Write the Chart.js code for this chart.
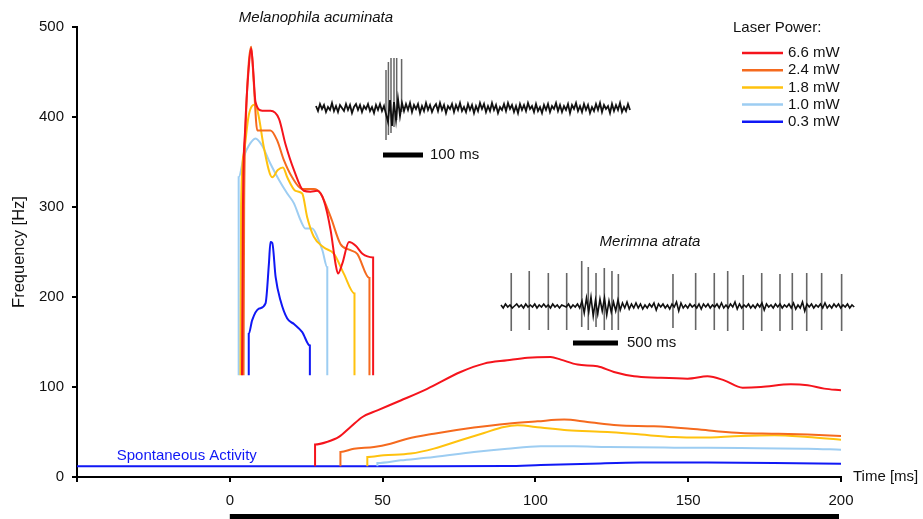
<!DOCTYPE html>
<html>
<head>
<meta charset="utf-8">
<script src="https://cdn.jsdelivr.net/npm/chart.js@4.4.1/dist/chart.umd.min.js"></script>
<style>
  html, body { margin: 0; padding: 0; background: #fff; }
  #wrap { width: 923px; height: 519px; position: relative; }
</style>
</head>
<body>
<div id="wrap"><canvas id="chart"></canvas></div>
<script>
// Laser power levels, shared by both species
const powerLabels = ['6.6 mW', '2.4 mW', '1.8 mW', '1.0 mW', '0.3 mW'];
const powerColors = ['#f5141c', '#f56a1e', '#ffc20e', '#9dcdf2', '#1018f5'];

// Melanophila acuminata: time [ms] / frequency [Hz]
const melRedT = [4.0, 4.3, 5.0, 6.2, 7.0, 7.6, 8.4, 10.6, 13.3, 16.1, 18.2, 21.0, 24.2, 26.4, 28.6, 30.8, 33.0, 34.6, 35.4, 36.8, 39.0, 41.2, 43.4, 46.9, 46.9];
const melRedF = [113, 300, 385, 455, 476, 455, 417, 407, 407, 398, 370, 341, 318, 317, 318, 307, 274, 237, 226, 237, 261, 257, 248, 244, 113];
const melOrangeT = [4.5, 4.7, 5.3, 6.2, 7.0, 7.8, 9.0, 13.3, 15.5, 17.7, 20.4, 23.7, 27.5, 29.7, 33.0, 36.2, 39.5, 41.7, 45.7, 45.7];
const melOrangeF = [113, 300, 400, 460, 478, 440, 385, 385, 374, 352, 333, 320, 320, 315, 289, 259, 252, 248, 221, 113];
const melYellowT = [3.5, 3.7, 4.6, 6.2, 8.3, 9.5, 11.1, 13.9, 15.7, 17.4, 18.8, 21.5, 23.7, 25.3, 27.5, 30.8, 34.1, 37.3, 40.8, 40.8];
const melYellowF = [113, 300, 360, 402, 414, 400, 367, 333, 341, 344, 333, 318, 315, 289, 267, 255, 248, 226, 204, 113];
const melLightT = [2.9, 2.9, 4.6, 6.2, 8.4, 10.6, 13.3, 16.1, 18.8, 21.0, 23.2, 24.8, 27.0, 28.6, 30.3, 31.9, 31.9];
const melLightF = [113, 333, 356, 368, 376, 368, 348, 330, 315, 304, 285, 276, 276, 267, 252, 233, 113];
const melBlueT = [6.2, 6.2, 7.3, 9.5, 11.7, 12.8, 13.3, 13.9, 15.0, 16.6, 18.8, 21.0, 23.7, 26.2, 26.2];
const melBlueF = [113, 159, 174, 187, 193, 237, 261, 260, 222, 196, 176, 170, 161, 146, 113];

// Merimna atrata: time [ms] / frequency [Hz]
const merRedT = [27.9, 27.9, 31.9, 35.7, 39.5, 43.4, 48.3, 55.9, 64.6, 75.5, 83.2, 90.8, 97.4, 105.0, 108.3, 113.8, 120.3, 125.7, 132.3, 139.9, 149.8, 156.3, 161.8, 167.8, 173.8, 183.6, 189.1, 194.5, 200];
const merRedF = [12, 36, 39, 44.5, 55.5, 66.7, 74, 85, 98, 116.7, 126, 129.7, 132.6, 133.3, 130.4, 124.9, 123, 116.7, 111.9, 110.4, 109.3, 111.9, 107.4, 99.3, 100, 103, 101.9, 98.2, 96.3];
const merOrangeT = [36.2, 36.2, 40.6, 47.2, 52.6, 58.1, 66.8, 79.9, 90.8, 100.7, 109.4, 117.0, 126.9, 138.8, 149.8, 158.5, 167.2, 178.1, 189.1, 200];
const merOrangeF = [12, 27.8, 31.5, 33.3, 37, 42.6, 48.1, 54.9, 59.3, 61.9, 63.8, 61.1, 57.4, 56.3, 53.8, 51.1, 48.9, 48.1, 47.1, 45.6];
const merYellowT = [45.0, 45.0, 50.4, 59.2, 66.8, 75.5, 83.2, 89.7, 94.1, 101.7, 110.5, 123.6, 134.5, 145.4, 154.1, 167.2, 178.1, 189.1, 200];
const merYellowF = [12, 22.2, 24.1, 26, 31.5, 40.8, 48.9, 55.6, 57.4, 54.9, 51.9, 50, 47.1, 44.4, 43.8, 45.6, 46.3, 44.4, 41.5];
const merLightT = [48.3, 48.3, 55.9, 66.8, 79.9, 90.8, 101.7, 112.6, 123.6, 145.4, 167.2, 189.1, 200];
const merLightF = [12, 15.6, 18.5, 22.2, 27.8, 31.5, 34.1, 34.1, 33.3, 32.6, 32.2, 31.5, 30.4];
// spontaneous activity, continuing as the 0.3 mW response
const merBlueT = [-50, 60, 90.8, 101.7, 118.1, 134.5, 156.3, 178.1, 200];
const merBlueF = [12, 12, 12.2, 13.3, 14.8, 16, 16, 15.6, 14.8];

// Example recordings (amplitude in arbitrary units)
const melTraceStep = 5; // ms per sample
const melTraceNoise = [
  2, -3, 4, -1, 3, -4, 1, -2, 5, -3, 2, -4, 3, 0, -3, 4, -2, 3, -5, 1,
  4, -2, 3, -4, 2, -1, 4, -3, 1, -5, 3, -2, 4, -3, 2, -6, -14, 8, -18, 6,
  -12, 9, -8, 5, -3, 4, -2, 5, -4, 3, -1, 4, -5, 2, -3, 5, -2, 3, -4, 1,
  4, -3, 5, -2, 3, -5, 2, -1, 4, -4, 3, -2, 5, -3, 1, -4, 4, -2, 3, -5,
  2, -3, 5, -1, 4, -4, 2, -3, 5, -2, 3, -5, 1, -2, 4, -3, 5, -1, 3, -4,
  2, -5, 4, -2, 3, -3, 5, -1, 2, -4, 4, -3, 1, -5, 3, -2, 4, -4, 2, -1,
  5, -3, 3, -4, 2, -2, 4, -5, 3, -1, 5, -3, 2, -4, 4, -2, 3, -5, 1, -3,
  4, -2, 5, -4, 3, -1, 2, -5, 4, -3, 3, -2, 5, -4, 1, -3, 4, -2
];
const melSpikeTimes = [175, 181, 187.5, 195, 201.7, 214];
const melSpikeTops = [38, 46, 50, 50, 50, 49];
const melSpikeBottoms = [-32, -27, -25, -19, -12, -4];
const melScaleBar = [167.5, 267.5]; // 100 ms

const merTraceStep = 25; // ms per sample
const merTraceNoise = [
  1, -2, 2, -1, 1, -2, 0, 2, -1, 1, -2, 2, -1, 1, -1, 2, -2, 1, -1, 2,
  -1, 1, -2, 2, -1, 1, -2, 1, 0, -1, 2, -2, 1, -1, 2, -2, 5, -7, 8, -6,
  9, -10, 6, -8, 7, -5, 8, -9, 5, -6, 4, -5, 6, -4, 3, -2, 4, -3, 2, -2,
  3, -2, 2, -3, 1, -2, 2, -1, 3, -4, 2, -1, 2, -2, 1, -3, 2, -1, 4, -5,
  3, -2, 1, -2, 2, -1, 1, -2, 2, -3, 2, -1, 2, -2, 1, -1, 2, -2, 3, -2,
  1, -2, 2, -1, 4, -3, 2, -2, 1, -1, 2, -2, 1, -2, 2, -1, 3, -4, 2, -1,
  1, -2, 2, -1, 2, -2, 1, -1, 2, -2, 3, -3, 1, -2, 4, -5, 2, -1, 2, -2,
  1, -1, 2, -2, 3, -2, 1, -2, 2, -1, 2, -2, 1, -1, 2, -2, 1, -1
];
const merSpikeTimes = [114, 314, 526, 730, 897, 970, 1056, 1148, 1233, 1304, 1911, 2163, 2370, 2519, 2692, 2897, 3100, 3237, 3397, 3563, 3785];
const merSpikeTops = [33, 35, 33, 33, 45, 39, 33, 38, 35, 32, 32, 33, 33, 35, 31, 33, 32, 33, 33, 33, 32];
const merSpikeBottoms = [-25, -24, -24, -24, -21, -24, -21, -24, -24, -24, -22, -24, -24, -25, -24, -25, -25, -24, -25, -24, -25];
const merScaleBar = [800, 1300]; // 500 ms

const FONT = "'Liberation Sans', Arial, Helvetica, sans-serif";

function xy(ts, fs) {
  return ts.map((t, i) => ({ x: t, y: fs[i] }));
}
function traceData(step, values) {
  return values.map((v, i) => ({ x: i * step, y: v }));
}
function spikeData(times, tops, bottoms) {
  const out = [];
  times.forEach((t, i) => {
    out.push({ x: t, y: bottoms[i] }, { x: t, y: tops[i] }, { x: t, y: null });
  });
  return out;
}
function curve(data, color) {
  return {
    data: data, borderColor: color, borderWidth: 2, pointRadius: 0,
    fill: false, cubicInterpolationMode: 'monotone', xAxisID: 'x', yAxisID: 'y'
  };
}
// recordings sit partly outside the plot area, so no clipping
function trace(data, color, width, xId, yId) {
  return {
    data: data, borderColor: color, borderWidth: width, pointRadius: 0,
    fill: false, tension: 0, spanGaps: false, clip: false, xAxisID: xId, yAxisID: yId
  };
}
// hidden inset axes: range set after data limits so no points get culled
function insetAxis(lo, hi) {
  return {
    type: 'linear', display: false, bounds: 'data',
    afterDataLimits: scale => { scale.min = lo; scale.max = hi; }
  };
}

const datasets = [
  curve(xy(melRedT, melRedF), powerColors[0]),
  curve(xy(merRedT, merRedF), powerColors[0]),
  curve(xy(melOrangeT, melOrangeF), powerColors[1]),
  curve(xy(merOrangeT, merOrangeF), powerColors[1]),
  curve(xy(melYellowT, melYellowF), powerColors[2]),
  curve(xy(merYellowT, merYellowF), powerColors[2]),
  curve(xy(melLightT, melLightF), powerColors[3]),
  curve(xy(merLightT, merLightF), powerColors[3]),
  curve(xy(melBlueT, melBlueF), powerColors[4]),
  curve(xy(merBlueT, merBlueF), powerColors[4]),
  trace(traceData(melTraceStep, melTraceNoise), '#111', 1.8, 'xMel', 'yMel'),
  trace(spikeData(melSpikeTimes, melSpikeTops, melSpikeBottoms), '#666', 1.5, 'xMel', 'yMel'),
  trace([{ x: melScaleBar[0], y: -47 }, { x: melScaleBar[1], y: -47 }], '#000', 5, 'xMel', 'yMel'),
  trace(traceData(merTraceStep, merTraceNoise), '#111', 1.6, 'xMer', 'yMer'),
  trace(spikeData(merSpikeTimes, merSpikeTops, merSpikeBottoms), '#666', 1.6, 'xMer', 'yMer'),
  trace([{ x: merScaleBar[0], y: -37 }, { x: merScaleBar[1], y: -37 }], '#000', 5, 'xMer', 'yMer')
];

// Labels, legend and stimulus bar
const annotations = {
  id: 'annotations',
  afterDraw(chart) {
    const ctx = chart.ctx;
    const area = chart.chartArea;
    const s = chart.scales;
    ctx.save();
    ctx.textBaseline = 'middle';
    ctx.fillStyle = '#111';

    // species titles
    ctx.font = 'italic 15px ' + FONT;
    ctx.textAlign = 'center';
    ctx.fillText('Melanophila acuminata', s.xMel.getPixelForValue(0), area.top - 9);
    ctx.fillText('Merimna atrata', s.xMer.getPixelForValue(1656), s.yMer.getPixelForValue(64));

    // scale bar labels
    ctx.font = '15px ' + FONT;
    ctx.textAlign = 'left';
    ctx.fillText('100 ms', s.xMel.getPixelForValue(melScaleBar[1]) + 7, s.yMel.getPixelForValue(-47));
    ctx.fillText('500 ms', s.xMer.getPixelForValue(merScaleBar[1]) + 9, s.yMer.getPixelForValue(-37));

    // x axis title at the end of the axis
    ctx.fillText('Time [ms]', area.right + 12, area.bottom);

    // spontaneous activity label
    ctx.fillStyle = powerColors[4];
    ctx.fillText('Spontaneous Activity', s.x.getPixelForValue(-37), s.y.getPixelForValue(24));

    // legend
    ctx.fillStyle = '#111';
    ctx.fillText('Laser Power:', area.right - 108, area.top + 1);
    powerLabels.forEach((label, i) => {
      const ly = area.top + 26 + i * 17.2;
      ctx.strokeStyle = powerColors[i];
      ctx.lineWidth = 2.5;
      ctx.beginPath();
      ctx.moveTo(area.right - 99, ly);
      ctx.lineTo(area.right - 58, ly);
      ctx.stroke();
      ctx.fillText(label, area.right - 53, ly);
    });

    // stimulus duration bar under the time axis
    const x0 = s.x.getPixelForValue(0);
    const x1 = s.x.getPixelForValue(200);
    ctx.fillStyle = '#000';
    ctx.fillRect(x0, chart.height - 5, x1 - x0 - 2, 5);
    ctx.restore();
  }
};

Chart.defaults.font.family = FONT;
Chart.defaults.font.size = 15;
Chart.defaults.color = '#111';

new Chart(document.getElementById('chart'), {
  type: 'line',
  data: { datasets: datasets },
  options: {
    responsive: true,
    maintainAspectRatio: false,
    animation: false,
    layout: { padding: { left: 0, top: 27, right: 82, bottom: 0 } },
    plugins: { legend: { display: false }, tooltip: { enabled: false } },
    scales: {
      x: {
        type: 'linear', min: -50, max: 200,
        border: { color: '#000', width: 2 },
        grid: { drawOnChartArea: false, drawTicks: true, tickLength: 5, color: '#000', lineWidth: 2 },
        ticks: { stepSize: 50, padding: 10, maxRotation: 0, callback: v => (v === -50 ? '' : v) },
        afterFit: scale => { scale.height = 42; }
      },
      y: {
        type: 'linear', min: 0, max: 500,
        border: { color: '#000', width: 2 },
        grid: { drawOnChartArea: false, drawTicks: true, tickLength: 5, color: '#000', lineWidth: 2 },
        ticks: { stepSize: 100, padding: 8 },
        title: { display: true, text: 'Frequency [Hz]', font: { size: 16.5 }, padding: { top: 10, bottom: 0 } },
        afterFit: scale => { scale.width = 77; }
      },
      xMel: insetAxis(-597.5, 1312.5),
      yMel: insetAxis(-369, 81),
      xMer: insetAxis(-4711, 3778),
      yMer: insetAxis(-171, 279)
    }
  },
  plugins: [annotations]
});
</script>
</body>
</html>
